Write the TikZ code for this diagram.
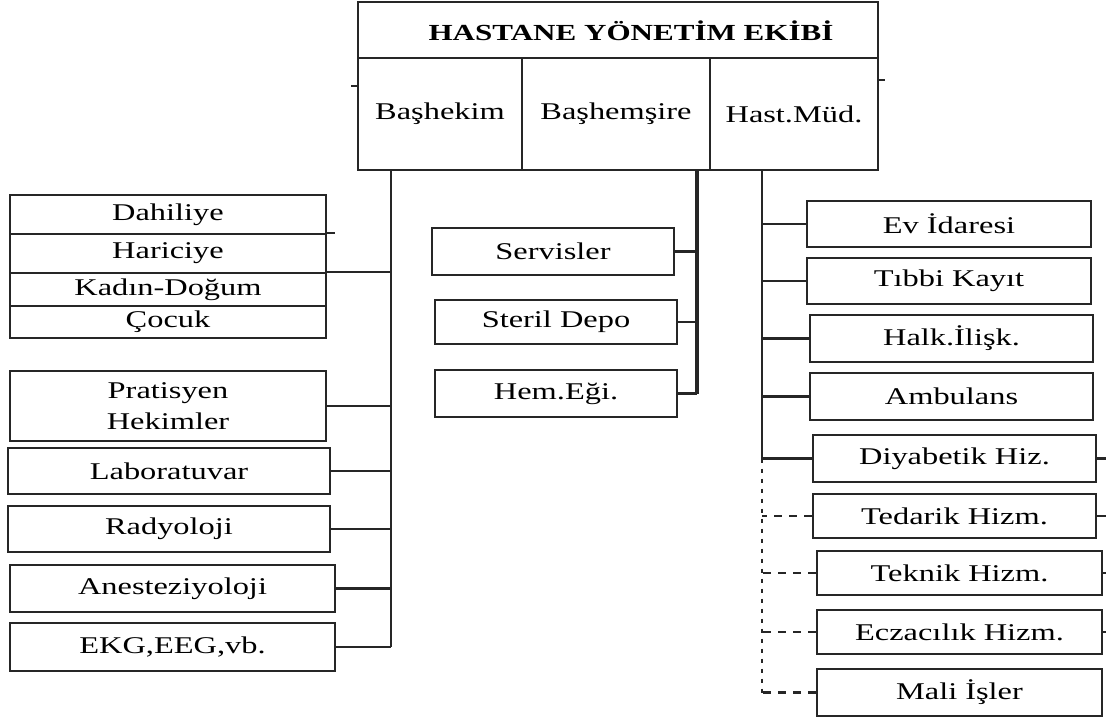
\documentclass[tikz,border=0pt]{standalone}
\usepackage{fontspec}
\setmainfont[FakeStretch=1.35]{Liberation Serif}
\usetikzlibrary{calc}
\tikzset{
  box/.style={draw=black!85, line width=2.2pt, inner sep=0pt, align=center,
    font=\fontsize{24}{31}\selectfont, text=black},
  topbox/.style={box, line width=2.6pt},
  conn/.style={draw=black!85, line width=2.2pt},
  thickconn/.style={draw=black!85, line width=3.8pt},
  dconn/.style={draw=black!85, line width=2.2pt, dash pattern=on 8pt off 7pt},
  dbus/.style={draw=black!85, line width=2.2pt, dash pattern=on 4pt off 6pt},
}
\begin{document}
\begin{tikzpicture}[x=1pt,y=-1pt]
\useasboundingbox (0,0) rectangle (1106,724);
% top management box
\node[topbox, minimum width=520, minimum height=56] (title) at (618,30) {};
\node[font=\fontsize{23}{26}\selectfont\bfseries, text=black] (titletext) at (631,31) {HASTANE YÖNETİM EKİBİ};
\node[topbox, minimum width=164, minimum height=112] (bh) at (440,114) {Başhekim};
\node[topbox, minimum width=188, minimum height=112] (bhs) at (616,114) {Başhemşire};
\node[topbox, minimum width=168, minimum height=112] (hm) at (794,114) {Hast.Müd.};
\draw[conn] (bh.west |- 0,86) -- ++(-6,0);
\draw[conn] (hm.east |- 0,80) -- ++(6,0);

% left column
\node[box, minimum width=316, minimum height=39] (dah) at (168,214.5) {Dahiliye};
\node[box, minimum width=316, minimum height=39] (har) at (168,253.5) {Hariciye};
\node[box, minimum width=316, minimum height=33] (kad) at (168,289.5) {Kadın-Doğum};
\node[box, minimum width=316, minimum height=32] (coc) at (168,322) {Çocuk};
\node[box, minimum width=316, minimum height=70] (prat) at (168,406) {Pratisyen\\Hekimler};
\node[box, minimum width=322, minimum height=46] (lab) at (169,471) {Laboratuvar};
\node[box, minimum width=322, minimum height=46] (rad) at (169,529) {Radyoloji};
\node[box, minimum width=325, minimum height=47] (ane) at (172.5,588.5) {Anesteziyoloji};
\node[box, minimum width=325, minimum height=48] (ekg) at (172.5,647) {EKG,EEG,vb.};
\coordinate (busL) at (391,647);
\draw[conn] (bh.south -| busL) -- (busL);
\draw[conn] (kad.north east) -- (kad.north east -| busL);
\draw[conn] (har.north east) -- ++(8,0);
\draw[conn] (prat.east) -- (prat.east -| busL);
\draw[conn] (lab.east) -- (lab.east -| busL);
\draw[conn] (rad.east) -- (rad.east -| busL);
\draw[conn] (ane.east) -- (ane.east -| busL);
\draw[conn] (ekg.east) -- (busL);

% middle column
\node[box, minimum width=242, minimum height=47] (srv) at (553,251.5) {Servisler};
\node[box, minimum width=242, minimum height=44] (ste) at (556,322) {Steril Depo};
\node[box, minimum width=242, minimum height=47] (hem) at (556,393.5) {Hem.Eği.};
\coordinate (busM) at (697,393.5);
\draw[thickconn] (bhs.south -| busM) -- (busM);
\draw[conn] (srv.east) -- (srv.east -| busM);
\draw[conn] (ste.east) -- (ste.east -| busM);
\draw[conn] (hem.east) -- (busM);

% right column
\node[box, minimum width=284, minimum height=46] (ev) at (949,224) {Ev İdaresi};
\node[box, minimum width=284, minimum height=46] (tib) at (949,281) {Tıbbi Kayıt};
\node[box, minimum width=283, minimum height=47] (halk) at (951.5,338.5) {Halk.İlişk.};
\node[box, minimum width=283, minimum height=47] (amb) at (951.5,396.5) {Ambulans};
\node[box, minimum width=283, minimum height=47] (diy) at (954.5,458.5) {Diyabetik Hiz.};
\node[box, minimum width=283, minimum height=44] (ted) at (954.5,516) {Tedarik Hizm.};
\node[box, minimum width=285, minimum height=44] (tek) at (959.5,573) {Teknik Hizm.};
\node[box, minimum width=285, minimum height=44] (ecz) at (959.5,632) {Eczacılık Hizm.};
\node[box, minimum width=285, minimum height=47] (mali) at (959.5,692.5) {Mali İşler};
\coordinate (busR) at (762,458.5);
\coordinate (busRd) at (762,694);
\draw[conn] (hm.south -| busR) -- (busR);
\draw[conn] (ev.west) -- (ev.west -| busR);
\draw[conn] (tib.west) -- (tib.west -| busR);
\draw[conn] (halk.west) -- (halk.west -| busR);
\draw[conn] (amb.west) -- (amb.west -| busR);
\draw[conn] (diy.west) -- (busR);
\draw[dbus] (busR) -- (busRd);
\draw[dconn] (ted.west) -- (ted.west -| busR);
\draw[dconn] (tek.west) -- (tek.west -| busR);
\draw[dconn] (ecz.west) -- (ecz.west -| busR);
\draw[dconn] (mali.west) -- (mali.west -| busR);
\draw[conn] (diy.east) -- ++(10,0);
\draw[conn] (ted.east) -- ++(10,0);
\draw[conn] (tek.east) -- ++(6,0);
\draw[conn] (ecz.east) -- ++(6,0);
\end{tikzpicture}
\end{document}
